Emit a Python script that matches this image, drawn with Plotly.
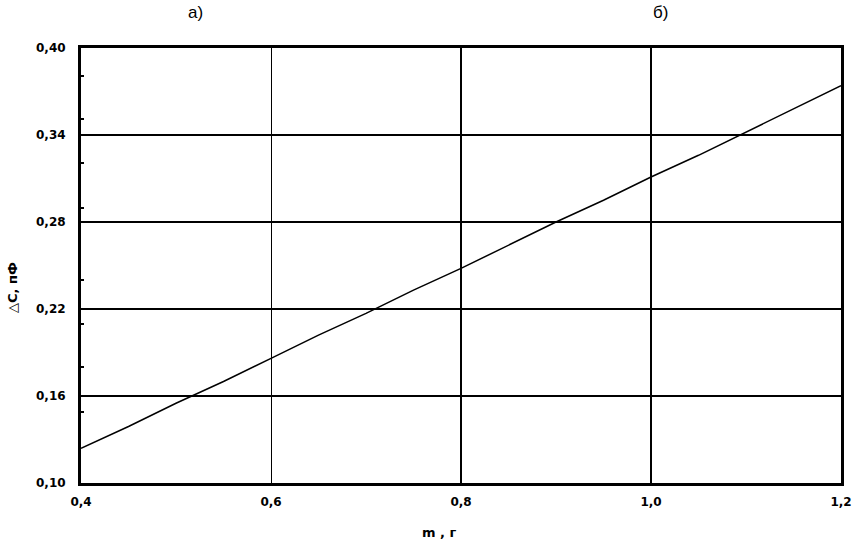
import plotly.graph_objects as go

# data
m_values = [0.40, 0.45, 0.50, 0.55, 0.60, 0.65, 0.70, 0.75, 0.80, 0.85,
            0.90, 0.95, 1.00, 1.05, 1.10, 1.15, 1.20]
dc_values = [0.124, 0.139, 0.155, 0.170, 0.186, 0.202, 0.217, 0.233, 0.248,
             0.264, 0.280, 0.295, 0.311, 0.326, 0.342, 0.358, 0.374]

x_ticks = [0.4, 0.6, 0.8, 1.0, 1.2]
x_ticktext = ["0,4", "0,6", "0,8", "1,0", "1,2"]
x_thick_grid = [0.8, 1.0]
y_ticks = [0.10, 0.16, 0.22, 0.28, 0.34, 0.40]
y_ticktext = ["0,10", "0,16", "0,22", "0,28", "0,34", "0,40"]
y_minor_ticks = [0.149, 0.18, 0.21, 0.24, 0.29, 0.321, 0.351, 0.381]

tick_font = dict(family="DejaVu Sans", size=12, color="black", weight="bold")

fig = go.Figure()
fig.add_trace(go.Scatter(x=m_values, y=dc_values, mode="lines",
                         line=dict(color="black", width=1.5),
                         showlegend=False, hoverinfo="skip"))

fig.update_layout(
    width=857, height=543,
    margin=dict(l=81, r=16, t=48, b=60, autoexpand=False),
    paper_bgcolor="white", plot_bgcolor="white",
    xaxis=dict(
        range=[0.4, 1.2], tickvals=x_ticks, ticktext=x_ticktext,
        showgrid=True, gridcolor="black", gridwidth=1,
        showline=True, linecolor="black", linewidth=3, mirror=True,
        zeroline=False, ticks="", ticklabelstandoff=6,
        tickfont=tick_font,
    ),
    xaxis2=dict(
        range=[0.4, 1.2], tickvals=x_thick_grid, overlaying="x",
        showgrid=True, gridcolor="black", gridwidth=2,
        showticklabels=False, showline=False, zeroline=False, ticks="",
    ),
    yaxis=dict(
        range=[0.10, 0.40], tickvals=y_ticks, ticktext=y_ticktext,
        showgrid=True, gridcolor="black", gridwidth=2,
        showline=True, linecolor="black", linewidth=3, mirror=True,
        zeroline=False, ticks="", ticklabelstandoff=10,
        tickfont=tick_font,
        minor=dict(tickvals=y_minor_ticks, ticks="inside", ticklen=3,
                   tickwidth=2, tickcolor="black", showgrid=False),
    ),
    annotations=[
        dict(text="а)", x=0.15, y=1.0805, xref="paper", yref="paper",
             xanchor="center", yanchor="middle",
             showarrow=False, font=dict(family="Liberation Sans", size=17, color="black")),
        dict(text="б)", x=0.762, y=1.0805, xref="paper", yref="paper",
             xanchor="center", yanchor="middle",
             showarrow=False, font=dict(family="Liberation Sans", size=17, color="black")),
        dict(text="<b>m , г</b>", x=0.472, y=-0.113, xref="paper", yref="paper",
             xanchor="center", yanchor="middle",
             showarrow=False, font=dict(family="DejaVu Sans", size=13, color="black")),
        dict(text="<b>△C, пФ</b>", x=-0.091, y=0.45, xref="paper", yref="paper",
             xanchor="center", yanchor="middle",
             textangle=-90, showarrow=False,
             font=dict(family="DejaVu Sans", size=13, color="black")),
    ],
)
# invisible trace to activate the overlay axis used for thick grid lines
fig.add_trace(go.Scatter(x=[0.4], y=[0.1], xaxis="x2", mode="markers",
                         marker=dict(opacity=0), showlegend=False, hoverinfo="skip"))

fig.write_html("out.html",
               config={"displayModeBar": False},
               post_script="document.body.style.margin='0';document.body.style.overflow='hidden';")
